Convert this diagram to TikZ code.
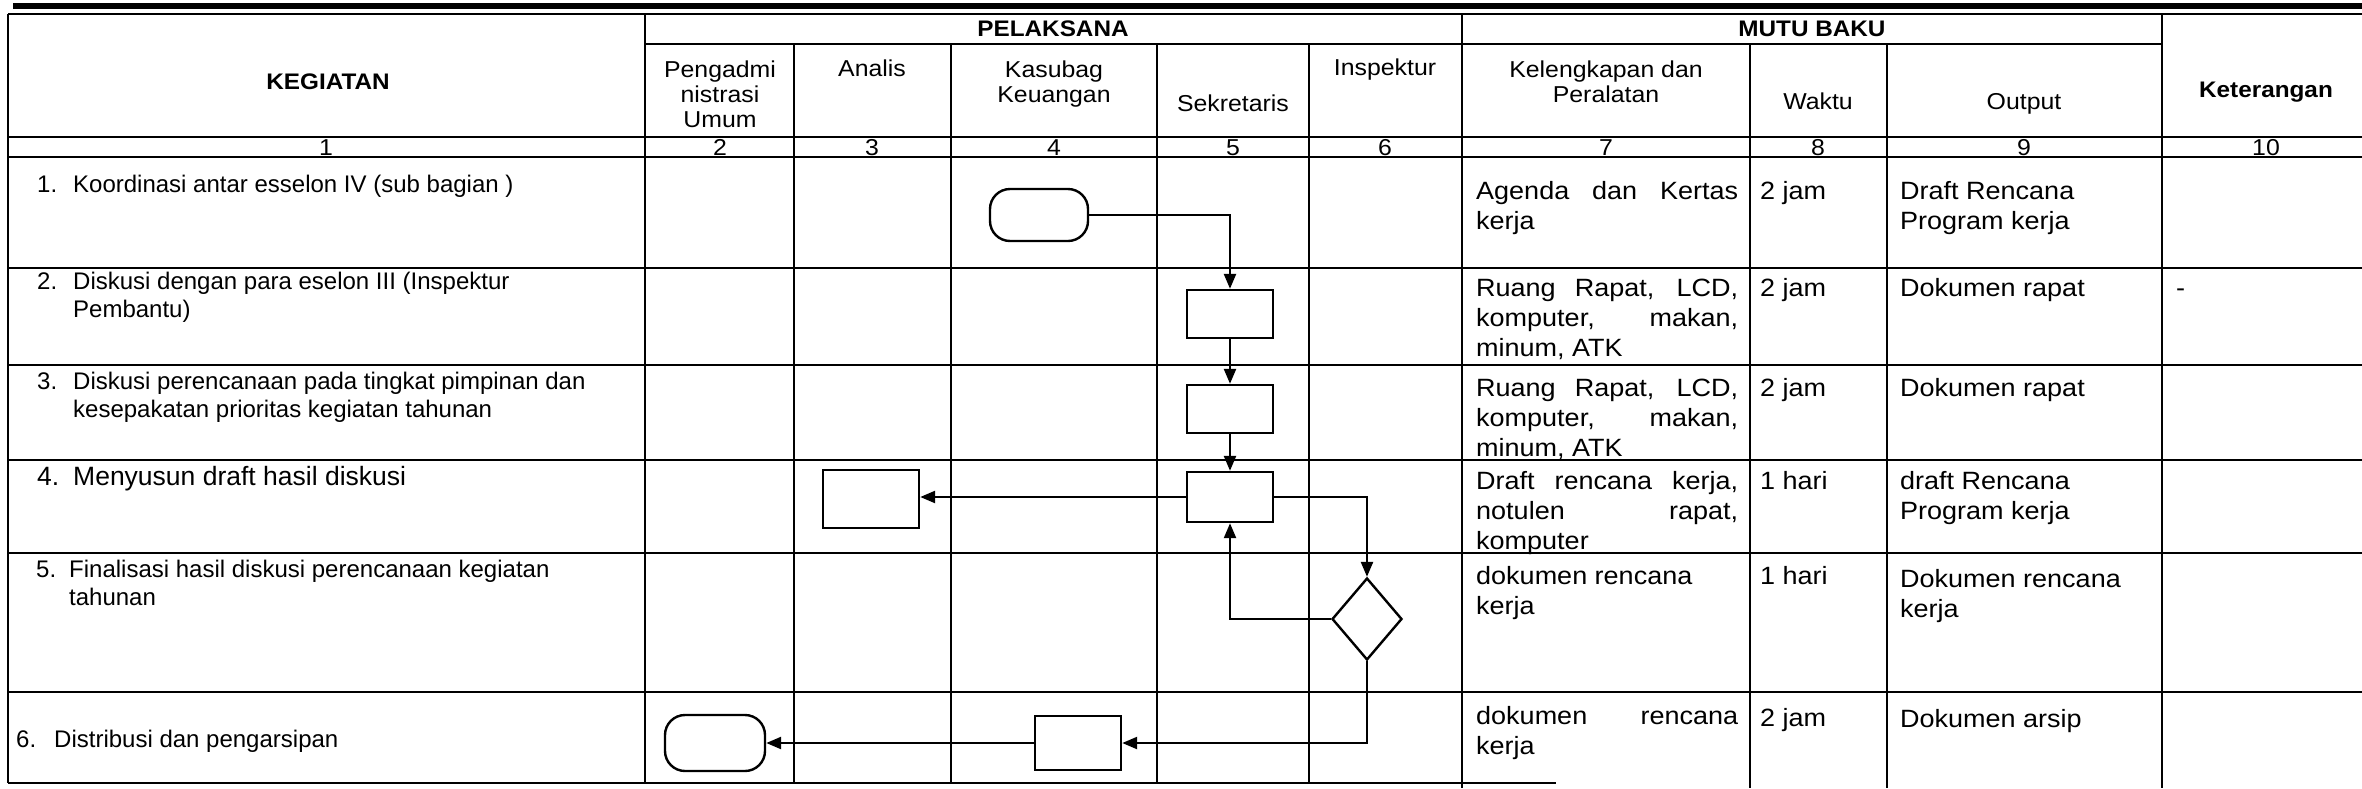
\documentclass[tikz,border=0pt]{standalone}
\usepackage{fontspec}
\setmainfont{Liberation Sans}[FakeStretch=1.08]
\newfontfamily\plainfam{Liberation Sans}
\usetikzlibrary{arrows.meta,shapes.geometric}
\newcommand{\bodyfnt}{\fontsize{25pt}{30pt}\selectfont}
\newcommand{\leftfnt}{\plainfam\fontsize{24pt}{28pt}\selectfont}
\newcommand{\bigleftfnt}{\plainfam\fontsize{26.5pt}{30pt}\selectfont}
\newcommand{\headfnt}{\fontsize{22.5pt}{25pt}\selectfont\bfseries}
\newcommand{\subfnt}{\fontsize{23pt}{25pt}\selectfont}
\newcommand{\jline}[1]{\makebox[\linewidth][s]{#1}}
\tikzset{
  gridline/.style={line width=2.3pt},
  toprule/.style={line width=6pt},
  txt/.style={anchor=base west, inner sep=0pt},
  ctxt/.style={anchor=base, inner sep=0pt},
  hd/.style={inner sep=0pt, font=\headfnt},
  stepbox/.style={draw, line width=2.4pt, inner sep=0pt, minimum width=86pt, minimum height=48pt},
  termbox/.style={draw, line width=2.4pt, inner sep=0pt, rounded corners=20pt, minimum width=98pt, minimum height=52pt},
  decbox/.style={draw, diamond, line width=2.4pt, inner sep=0pt, minimum width=70pt, minimum height=82pt},
  arr/.style={line width=2.4pt, -{Triangle[length=15pt,width=12pt]}},
}
\begin{document}
\begin{tikzpicture}[x=1pt,y=-1pt]
\useasboundingbox (0,0) rectangle (2362,788);
% ---------- grid ----------
\draw[toprule] (13,6) -- (2362,6);
\draw[gridline] (8,14) -- (2362,14);
\draw[gridline] (645,44) -- (2162,44);
\foreach \y in {137,157,268,365,460,553,692} \draw[gridline] (8,\y) -- (2362,\y);
\draw[gridline] (8,783) -- (1556,783);
\foreach \x in {8,645} \draw[gridline] (\x,14) -- (\x,783);
\foreach \x in {1462,2162} \draw[gridline] (\x,14) -- (\x,788);
\foreach \x in {794,951,1157,1309} \draw[gridline] (\x,44) -- (\x,783);
\foreach \x in {1750,1887} \draw[gridline] (\x,44) -- (\x,788);
% ---------- headers ----------
\node[hd] (hKeg) at (328,82) {KEGIATAN};
\node[hd] (hPel) at (1053,29) {PELAKSANA};
\node[hd] (hMutu) at (1812,29) {MUTU BAKU};
\node[hd] (hKet) at (2266,92) {Keterangan};
\node[ctxt,font=\subfnt] (hPeng) at (720,77) {\parbox[t]{145pt}{\centering Pengadmi\\nistrasi\\Umum}};
\node[ctxt,font=\subfnt] (hAna) at (872,76) {Analis};
\node[ctxt,font=\subfnt] (hKas) at (1054,77) {\parbox[t]{190pt}{\centering Kasubag\\Keuangan}};
\node[ctxt,font=\subfnt] (hSek) at (1233,111) {Sekretaris};
\node[ctxt,font=\subfnt] (hIns) at (1385,75) {Inspektur};
\node[ctxt,font=\subfnt] (hKel) at (1606,77) {\parbox[t]{280pt}{\centering Kelengkapan dan\\Peralatan}};
\node[ctxt,font=\subfnt] (hWak) at (1818,109) {Waktu};
\node[ctxt,font=\subfnt] (hOut) at (2024,109) {Output};
% numbers
\node[ctxt,font=\subfnt] (c1) at (326,155) {1};
\node[ctxt,font=\subfnt] (c2) at (720,155) {2};
\node[ctxt,font=\subfnt] (c3) at (872,155) {3};
\node[ctxt,font=\subfnt] (c4) at (1054,155) {4};
\node[ctxt,font=\subfnt] (c5) at (1233,155) {5};
\node[ctxt,font=\subfnt] (c6) at (1385,155) {6};
\node[ctxt,font=\subfnt] (c7) at (1606,155) {7};
\node[ctxt,font=\subfnt] (c8) at (1818,155) {8};
\node[ctxt,font=\subfnt] (c9) at (2024,155) {9};
\node[ctxt,font=\subfnt] (c10) at (2266,155) {10};
% ---------- column 1 ----------
\node[txt,font=\leftfnt] (n1) at (37,192) {1.};
\node[txt,font=\leftfnt] (k1) at (73,192) {Koordinasi antar esselon IV (sub bagian )};
\node[txt,font=\leftfnt] (n2) at (37,289) {2.};
\node[txt,font=\leftfnt] (k2) at (73,289) {\parbox[t]{560pt}{Diskusi dengan para eselon III (Inspektur\\Pembantu)}};
\node[txt,font=\leftfnt] (n3) at (37,389) {3.};
\node[txt,font=\leftfnt] (k3) at (73,389) {\parbox[t]{560pt}{Diskusi perencanaan pada tingkat pimpinan dan\\kesepakatan prioritas kegiatan tahunan}};
\node[txt,font=\bigleftfnt] (n4) at (37,485) {4.};
\node[txt,font=\bigleftfnt] (k4) at (73,485) {Menyusun draft hasil diskusi};
\node[txt,font=\leftfnt] (n5) at (36,577) {5.};
\node[txt,font=\leftfnt] (k5) at (69,577) {\parbox[t]{560pt}{Finalisasi hasil diskusi perencanaan kegiatan\\tahunan}};
\node[txt,font=\leftfnt] (n6) at (16,747) {6.};
\node[txt,font=\leftfnt] (k6) at (54,747) {Distribusi dan pengarsipan};
% ---------- column 7 ----------
\node[txt,font=\bodyfnt] (p1) at (1476,199) {\parbox[t]{262pt}{\jline{Agenda dan Kertas}\\kerja}};
\node[txt,font=\bodyfnt] (p2) at (1476,296) {\parbox[t]{262pt}{\jline{Ruang Rapat, LCD,}\\\jline{komputer, makan,}\\minum, ATK}};
\node[txt,font=\bodyfnt] (p3) at (1476,396) {\parbox[t]{262pt}{\jline{Ruang Rapat, LCD,}\\\jline{komputer, makan,}\\minum, ATK}};
\node[txt,font=\bodyfnt] (p4) at (1476,489) {\parbox[t]{262pt}{\jline{Draft rencana kerja,}\\\jline{notulen rapat,}\\komputer}};
\node[txt,font=\bodyfnt] (p5) at (1476,584) {\parbox[t]{262pt}{dokumen rencana\\kerja}};
\node[txt,font=\bodyfnt] (p6) at (1476,724) {\parbox[t]{262pt}{\jline{dokumen rencana}\\kerja}};
% ---------- column 8 ----------
\node[txt,font=\bodyfnt] (w1) at (1760,199) {2 jam};
\node[txt,font=\bodyfnt] (w2) at (1760,296) {2 jam};
\node[txt,font=\bodyfnt] (w3) at (1760,396) {2 jam};
\node[txt,font=\bodyfnt] (w4) at (1760,489) {1 hari};
\node[txt,font=\bodyfnt] (w5) at (1760,584) {1 hari};
\node[txt,font=\bodyfnt] (w6) at (1760,726) {2 jam};
% ---------- column 9 ----------
\node[txt,font=\bodyfnt] (o1) at (1900,199) {\parbox[t]{250pt}{Draft Rencana\\Program kerja}};
\node[txt,font=\bodyfnt] (o2) at (1900,296) {Dokumen rapat};
\node[txt,font=\bodyfnt] (o3) at (1900,396) {Dokumen rapat};
\node[txt,font=\bodyfnt] (o4) at (1900,489) {\parbox[t]{250pt}{draft Rencana\\Program kerja}};
\node[txt,font=\bodyfnt] (o5) at (1900,587) {\parbox[t]{250pt}{Dokumen rencana\\kerja}};
\node[txt,font=\bodyfnt] (o6) at (1900,727) {Dokumen arsip};
% ---------- column 10 ----------
\node[txt,font=\bodyfnt] (r2) at (2176,296) {-};
% ---------- flowchart ----------
\node[termbox] (t1) at (1039,215) {};
\node[stepbox] (b2) at (1230,314) {};
\node[stepbox] (b3) at (1230,409) {};
\node[stepbox, minimum height=50pt] (b4) at (1230,497) {};
\node[stepbox, minimum width=96pt, minimum height=58pt] (b4a) at (871,499) {};
\node[decbox] (d5) at (1367,619) {};
\node[stepbox, minimum height=54pt] (b6) at (1078,743) {};
\node[termbox, minimum width=100pt, minimum height=56pt] (t6) at (715,743) {};
\draw[arr] (t1.east) -| (b2.north);
\draw[arr] (b2.south) -- (b3.north);
\draw[arr] (b3.south) -- (b4.north);
\draw[arr] (b4.west) -- (b4.west -| b4a.east);
\draw[arr] (b4.east) -| (d5.north);
\draw[arr] (d5.west) -| (b4.south);
\draw[arr] (d5.south) |- (b6.east);
\draw[arr] (b6.west) -- (t6.east);
\end{tikzpicture}
\end{document}
